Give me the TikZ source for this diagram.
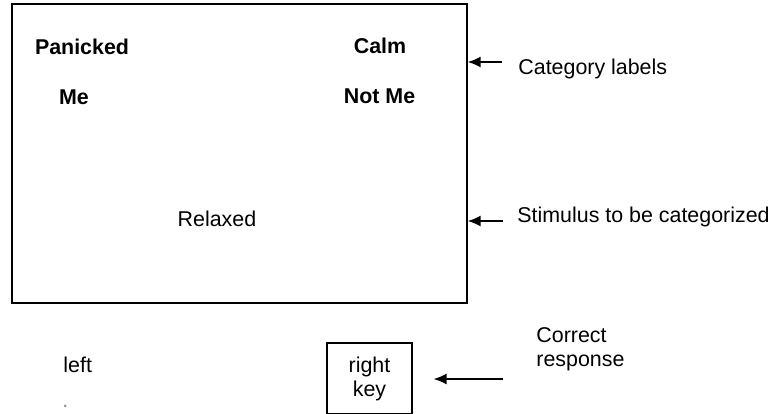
\documentclass[tikz,border=0pt]{standalone}
\usepackage{fontspec}
\setmainfont{Liberation Sans}
\usetikzlibrary{arrows.meta,positioning}

\begin{document}
\begin{tikzpicture}[
    x=0.5pt, y=-0.5pt,
    every node/.style={font=\fontsize{10.7}{12}\selectfont, inner sep=0pt},
    catword/.style={font=\fontsize{10.7}{12}\selectfont\bfseries, anchor=base},
    screen/.style={draw, line width=0.7pt, minimum width=227.5pt, minimum height=149.5pt},
    keybox/.style={draw, line width=0.6pt, align=center, minimum width=42.5pt, minimum height=35.5pt},
    note/.style={anchor=base west, align=left},
    pointer/.style={-{Latex[length=6.5pt,width=5.5pt]}, line width=0.75pt}
]
\useasboundingbox (0,0) rectangle (769,413);
\node[screen] (screen) at (239.5,153.5) {};
\node[catword] (panicked) at (82,54) {Panicked};
\node[catword] (me) at (74,104) {Me};
\node[catword] (calm) at (380,53) {Calm};
\node[catword] (notme) at (379.5,103) {Not Me};
\node[anchor=base] (stimulus) at (217,226) {Relaxed};
\node[note] (leftkey) at (63,372) {left};
\node[note, text=black!45] (dot) at (62,407) {.};
\node[keybox] (rightkey) at (369.5,378.5) {right\\key};
\node[note] (catnote) at (518,74) {Category labels};
\node[note] (stimnote) at (517,222) {Stimulus to be categorized};
\node[note] (respnote) at (536,366) {Correct\\response};
\coordinate (cattail) at ([shift={(-8pt,6pt)}]catnote.base west);
\coordinate (stimtail) at ([shift={(-7pt,0.5pt)}]stimnote.base west);
\coordinate (resptail) at ([shift={(-16.5pt,-6.5pt)}]respnote.base west);
\coordinate (resptip) at ([xshift=10.5pt]rightkey.east);
\draw[pointer] (cattail) -- (cattail -| screen.east);
\draw[pointer] (stimtail) -- (stimtail -| screen.east);
\draw[pointer] (resptail) -- (resptail -| resptip);
\end{tikzpicture}
\end{document}
